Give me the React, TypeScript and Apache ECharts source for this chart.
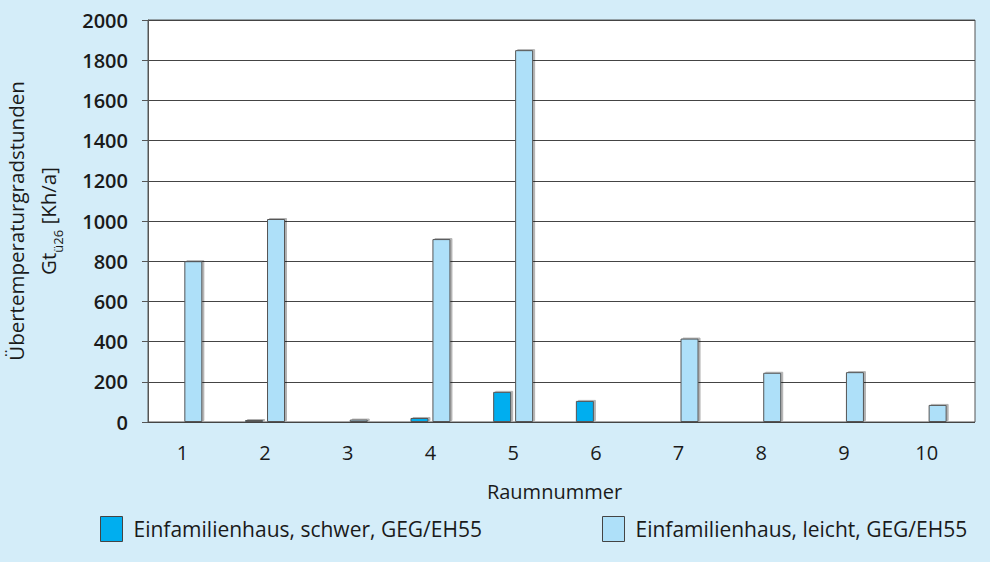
import { useEffect, useRef } from 'react'
import * as echarts from 'echarts'

const rooms = ['1', '2', '3', '4', '5', '6', '7', '8', '9', '10']
const schwer = [0, 10, 0, 20, 150, 105, 0, 0, 0, 0]
const leicht = [800, 1010, 12, 910, 1850, 0, 415, 245, 248, 85]
const seriesNames = ['Einfamilienhaus, schwer, GEG/EH55', 'Einfamilienhaus, leicht, GEG/EH55']
const FONT = '"Open Sans", Roboto, sans-serif'
const INK = '#1a1a1a'

export default function App() {
  const ref = useRef<HTMLDivElement>(null)

  useEffect(() => {
    if (!ref.current) return
    const c = echarts.init(ref.current, null, { renderer: 'svg' })
    const barStyle = (color: string) => ({
      color, borderColor: '#555', borderWidth: 1,
      shadowColor: 'rgba(0,0,0,0.3)', shadowOffsetX: 2, shadowOffsetY: -1, shadowBlur: 0,
    })
    const legendBase = {
      top: 516, padding: 0, itemWidth: 22, itemHeight: 25, icon: 'rect', itemGap: 10,
      textStyle: { fontSize: 21, color: INK, fontFamily: FONT, padding: [0, 0, 0, 6] },
      itemStyle: { borderColor: '#444', borderWidth: 1 },
    }
    c.setOption({
      animation: false,
      backgroundColor: '#d4edf9',
      textStyle: { fontFamily: FONT },
      grid: [
        { left: 148, right: 15, top: 20, bottom: 140, outerBoundsMode: 'none', containLabel: false, show: true, backgroundColor: '#fff', borderColor: '#555', borderWidth: 1 },
        { left: 141, right: 22, top: 20, bottom: 140, outerBoundsMode: 'none', containLabel: false },
      ],
      legend: [
        { ...legendBase, left: 100, data: [seriesNames[0]] },
        { ...legendBase, left: 602, data: [seriesNames[1]] },
      ],
      xAxis: [
        { gridIndex: 0, type: 'value', show: false, min: 0, max: 1 },
        {
          gridIndex: 1, type: 'category', data: rooms,
          axisLine: { show: false }, axisTick: { show: false },
          axisLabel: { color: INK, fontSize: 20, margin: 20 },
          name: 'Raumnummer', nameLocation: 'middle', nameGap: 59,
          nameTextStyle: { color: INK, fontSize: 20 },
        },
      ],
      yAxis: [
        {
          gridIndex: 0, type: 'value', min: 0, max: 2000, interval: 200,
          axisLine: { show: true, lineStyle: { color: '#555' } },
          axisTick: { show: true, inside: false, length: 6, lineStyle: { color: '#555' } },
          splitLine: { lineStyle: { color: '#444', width: 1 } },
          axisLabel: { color: INK, fontSize: 20, fontWeight: 600, margin: 20, formatter: (v: number) => String(v) },
          name: 'Übertemperaturgradstunden\n{a|Gt}{sub|ü26}{a| [Kh/a]}',
          nameLocation: 'middle', nameRotate: 90, nameGap: 84, nameMoveOverlap: false,
          nameTextStyle: {
            color: INK, fontSize: 20.5, lineHeight: 32, align: 'center',
            rich: { a: { fontSize: 20.5, color: INK }, sub: { fontSize: 13, color: INK, verticalAlign: 'bottom', padding: [8, 0, 0, 0] } },
          },
        },
        { gridIndex: 1, type: 'value', min: 0, max: 2000, show: false },
      ],
      series: [
        { name: seriesNames[0], type: 'bar', xAxisIndex: 1, yAxisIndex: 1, data: schwer, barWidth: 18, barGap: '22%', itemStyle: barStyle('#00aeef') },
        { name: seriesNames[1], type: 'bar', xAxisIndex: 1, yAxisIndex: 1, data: leicht, barWidth: 18, barGap: '22%', itemStyle: barStyle('#aee0f9') },
      ],
    })
    return () => c.dispose()
  }, [])

  return <div ref={ref} style={{ position: 'fixed', left: 0, top: 0, width: 990, height: 562 }} />
}
